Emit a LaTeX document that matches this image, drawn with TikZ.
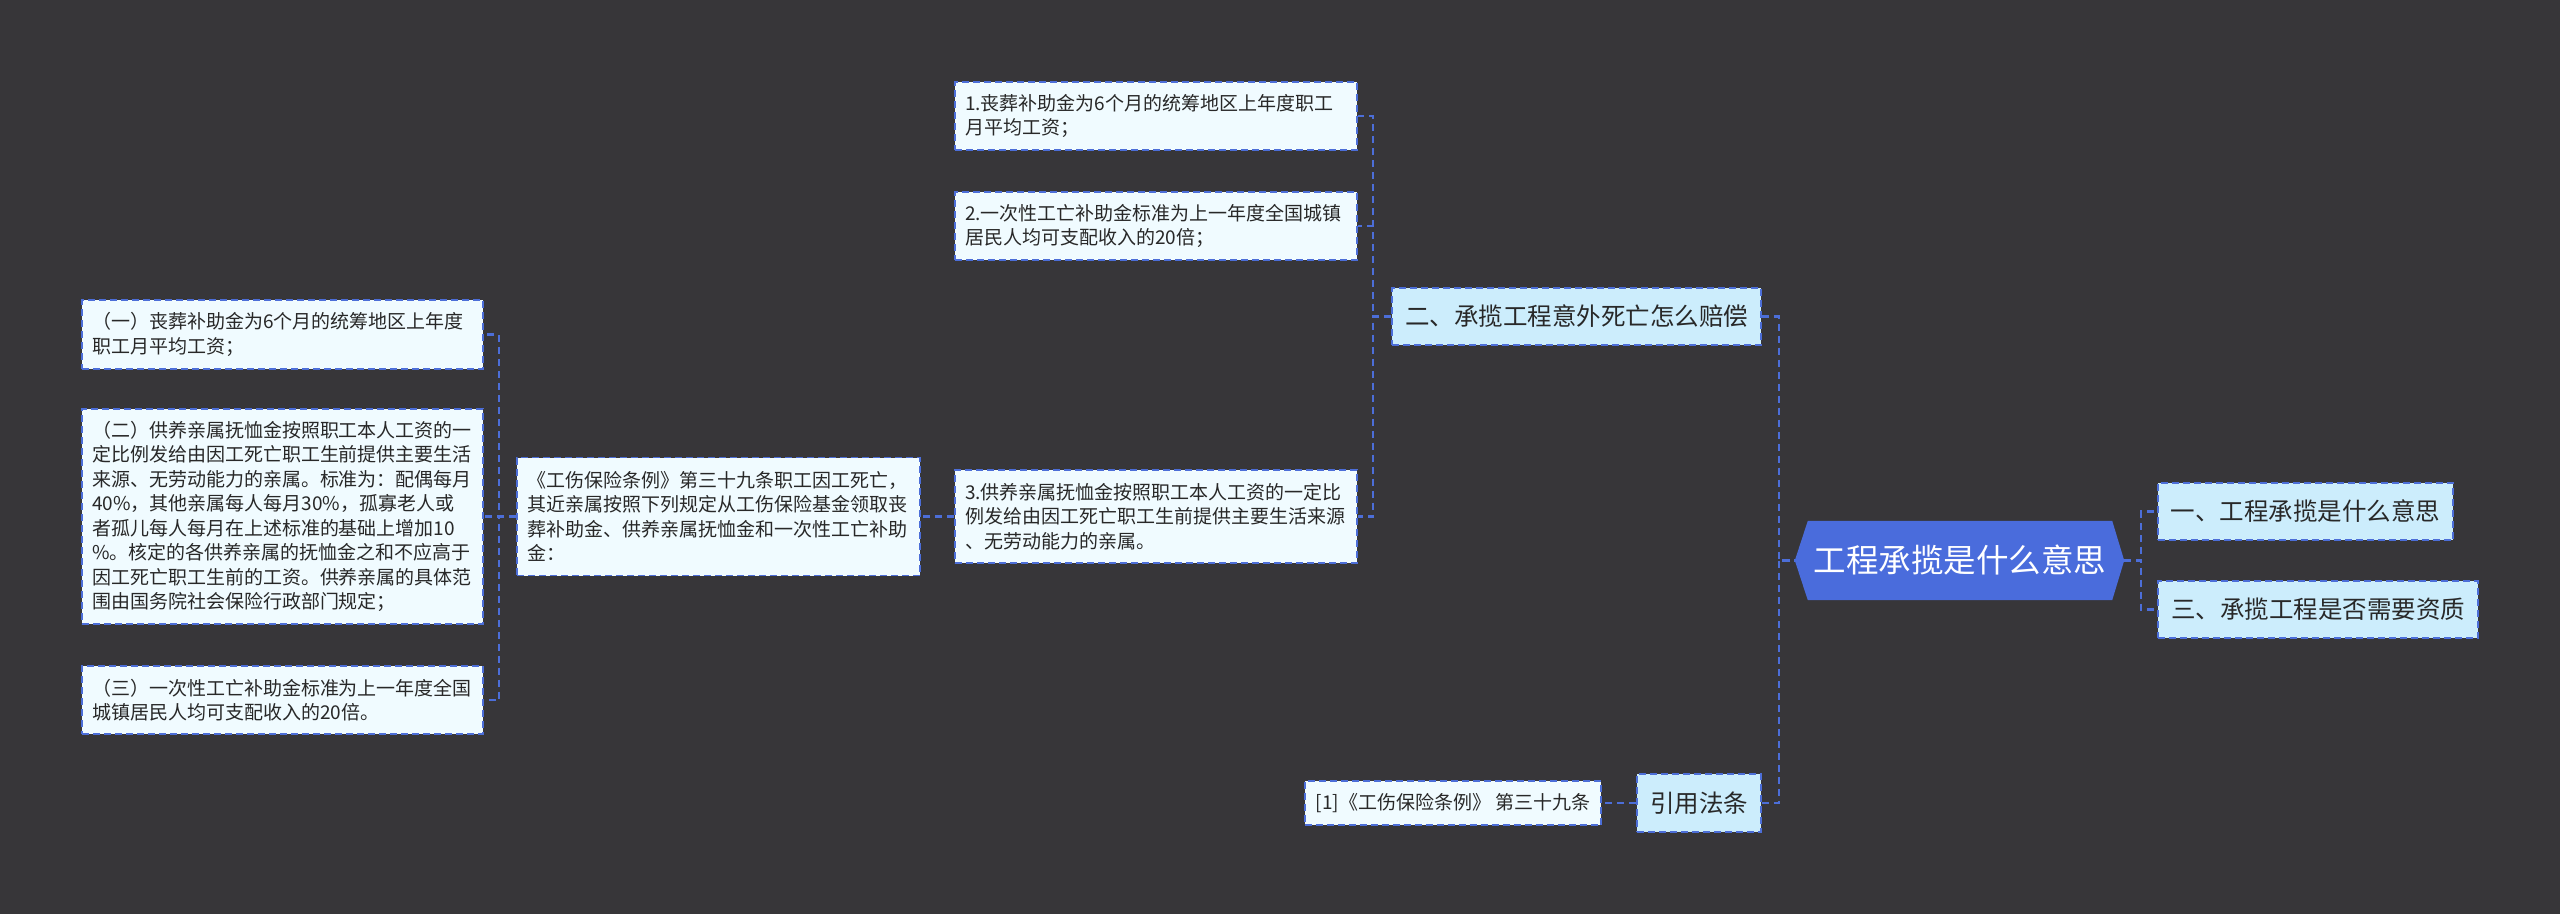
\documentclass[tikz,border=0pt]{standalone}
\usepackage{fontspec}
\newfontfamily\cjk{Noto Sans CJK SC}
\usetikzlibrary{backgrounds}
\definecolor{bgc}{RGB}{55,54,57}
\definecolor{linec}{RGB}{76,110,216}
\definecolor{rootc}{RGB}{74,108,220}
\definecolor{lvone}{RGB}{204,237,252}
\definecolor{leafc}{RGB}{240,251,255}
\definecolor{txtc}{RGB}{40,40,40}
\begin{document}
\begin{tikzpicture}[x=1pt,y=-1pt,
 boxbase/.style={draw=linec, line width=1.8pt, dash pattern=on 7pt off 4pt, text=txtc, anchor=center},
 leafbox/.style={boxbase, fill=leafc, font=\cjk\fontsize{19}{24.5}\selectfont, align=left, inner xsep=10pt, inner ysep=0pt},
 topicbox/.style={boxbase, fill=lvone, font=\cjk\fontsize{24.5}{30}\selectfont, inner xsep=13pt, inner ysep=0pt, minimum height=57pt},
 link/.style={draw=linec, line width=2.4pt, dash pattern=on 7pt off 5pt},
 rootbox/.style={font=\cjk\fontsize{32.5}{38}\selectfont, text=white, inner sep=0pt, minimum width=304pt, minimum height=79pt, anchor=center}]
\useasboundingbox (0,0) rectangle (2560,914);

% root
\node[rootbox] (root) at (1960,560.5) {工程承揽是什么意思};

% level one
\node[topicbox] (n2) at (1576.5,316.5) {二、承揽工程意外死亡怎么赔偿};
\node[topicbox] (n1) at (2305.5,511.5) {一、工程承揽是什么意思};
\node[topicbox] (n3) at (2318,609.5) {三、承揽工程是否需要资质};
\node[topicbox, minimum height=58pt] (ref) at (1699,803) {引用法条};

% leaves
\node[leafbox, text width=382pt, minimum height=68pt] (a1) at (1156,116)
 {1.丧葬补助金为6个月的统筹地区上年度职工\\月平均工资；};
\node[leafbox, text width=382pt, minimum height=68pt] (a2) at (1156,226)
 {2.一次性工亡补助金标准为上一年度全国城镇\\居民人均可支配收入的20倍；};
\node[leafbox, text width=382pt, minimum height=93pt] (a3) at (1156,516.5)
 {3.供养亲属抚恤金按照职工本人工资的一定比\\例发给由因工死亡职工生前提供主要生活来源\\、无劳动能力的亲属。};
\node[leafbox, text width=383pt, minimum height=118pt] (b) at (718.5,516.5)
 {《工伤保险条例》第三十九条职工因工死亡，\\其近亲属按照下列规定从工伤保险基金领取丧\\葬补助金、供养亲属抚恤金和一次性工亡补助\\金：};
\node[leafbox, text width=381pt, minimum height=69pt] (c1) at (282.5,334.5)
 {（一）丧葬补助金为6个月的统筹地区上年度\\职工月平均工资；};
\node[leafbox, text width=381pt, minimum height=215pt] (c2) at (282.5,516.5)
 {（二）供养亲属抚恤金按照职工本人工资的一\\定比例发给由因工死亡职工生前提供主要生活\\来源、无劳动能力的亲属。标准为：配偶每月\\40\%，其他亲属每人每月30\%，孤寡老人或\\者孤儿每人每月在上述标准的基础上增加10\\\%。核定的各供养亲属的抚恤金之和不应高于\\因工死亡职工生前的工资。供养亲属的具体范\\围由国务院社会保险行政部门规定；};
\node[leafbox, text width=381pt, minimum height=68pt] (c3) at (282.5,700)
 {（三）一次性工亡补助金标准为上一年度全国\\城镇居民人均可支配收入的20倍。};
\node[leafbox, inner xsep=11pt, minimum height=44pt] (r1) at (1453,803)
 {[1]《工伤保险条例》 第三十九条};

% background and hexagon
\begin{scope}[on background layer]
\fill[bgc] (0,0) rectangle (2560,914);
\fill[rootc] (root.north west) -- (root.north east) -- ([xshift=12pt]root.east)
 -- (root.south east) -- (root.south west) -- ([xshift=-13pt]root.west) -- cycle;
\end{scope}

% connectors
\coordinate (rl) at ([xshift=-13pt]root.west);
\coordinate (rr) at ([xshift=12pt]root.east);
\draw[link] (n2.east) -- ++(17,0) |- (rl);
\draw[link] (ref.east) -- ++(17,0) |- (rl);
\draw[link] (rr) -- ++(17,0) |- (n1.west);
\draw[link] (rr) -- ++(17,0) |- (n3.west);
\draw[link] (n2.west) -- ++(-18,0) |- (a1.east);
\draw[link] (n2.west) -- ++(-18,0) |- (a2.east);
\draw[link] (n2.west) -- ++(-18,0) |- (a3.east);
\draw[link] (a3.west) -- (b.east);
\draw[link] (b.west) -- ++(-17,0) |- (c1.east);
\draw[link] (b.west) -- ++(-17,0) |- (c2.east);
\draw[link] (b.west) -- ++(-17,0) |- (c3.east);
\draw[link] (ref.west) -- (r1.east);
\end{tikzpicture}
\end{document}
